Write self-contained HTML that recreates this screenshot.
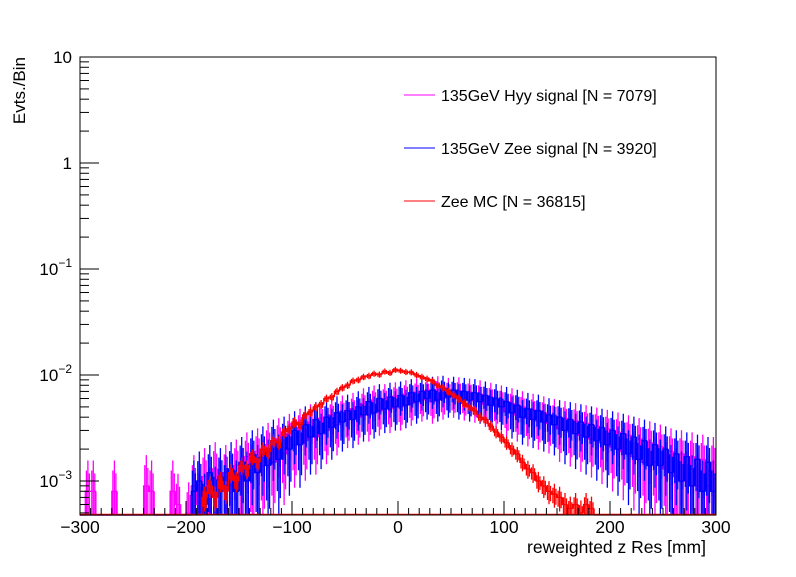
<!DOCTYPE html>
<html><head><meta charset="utf-8">
<style>
body{margin:0;background:#fff;}
svg text{font-family:"Liberation Sans",sans-serif;}
</style></head>
<body>
<svg id="chart" width="796" height="572" viewBox="0 0 796 572" xmlns="http://www.w3.org/2000/svg">
<rect width="796" height="572" fill="#fff"/>
<g id="plot"></g>
<g id="axes"></g>
<text transform="translate(25,57) rotate(-90)" text-anchor="end" font-size="17">Evts./Bin</text>
<text x="706" y="553" text-anchor="end" font-size="17.5">reweighted z Res [mm]</text>
<g>
<line x1="404" y1="95" x2="435" y2="95" stroke="#f0f" stroke-width="1"/>
<text x="441" y="101" font-size="16">135GeV Hyy signal [N = 7079]</text>
<line x1="404" y1="148" x2="435" y2="148" stroke="#00f" stroke-width="1"/>
<text x="441" y="154" font-size="16">135GeV Zee signal [N = 3920]</text>
<line x1="404" y1="201" x2="435" y2="201" stroke="#f00" stroke-width="1"/>
<text x="441" y="207" font-size="16">Zee MC [N = 36815]</text>
</g>
</svg>
<script>
// bins: 5 mm wide, starting at -300; values in units of 1e-3
const binEdgeStart = -300;
const binWidth = 5;
const redValues = [0,0,0,0,0,0,0,0,0,0,0,0,0,0,0,0,0,0,0,0,
 0,0,0,0.7,0.9,0.7,1.0,0.8,1.2,1.0,
 1.4,1.3,1.7,1.5,2.0,1.9,2.4,2.3,2.9,3.1,
 3.6,3.4,4.2,4.5,5.0,5.3,6.0,6.2,7.0,7.6,
 8.0,8.8,9.0,9.6,9.8,10.3,10.1,10.8,10.5,11.2,
 11.0,10.7,10.6,10.0,9.6,9.2,8.8,8.0,7.6,7.0,
 6.5,6.0,5.4,5.0,4.6,4.0,3.8,3.3,2.9,2.6,
 2.3,2.0,1.8,1.5,1.3,1.2,1.0,0.9,0.8,0.75,
 0.7,0.6,0.55,0.6,0.5,0.6,0.55,0,0,0,
 0,0,0,0,0,0,0,0,0,0,0,0,0,0,0,0,0,0,0,0];
const blueValues = [0,0,0,0,0,0,0,0,0,0,0,0,0,0,0,0,0,0,0,0,
 0,0.8,1.0,0.6,1.2,0.7,1.1,0.9,1.3,0.8,
 1.5,1.0,1.8,1.2,2.0,1.4,2.4,1.6,2.6,2.0,
 3.0,2.2,3.4,2.6,3.8,2.8,4.0,3.2,4.4,3.6,
 4.6,3.8,5.0,4.2,5.6,4.4,6.0,4.8,6.2,5.0,
 6.4,5.2,6.8,5.6,7.0,6.0,7.2,5.8,7.4,6.2,
 7.2,6.0,7.0,5.8,6.8,5.6,6.4,5.2,6.0,5.0,
 5.6,4.4,5.2,4.0,4.8,3.8,4.6,3.6,4.2,3.4,
 4.0,3.0,3.8,2.8,3.6,2.6,3.4,2.4,3.2,2.2,
 3.0,2.0,2.8,1.8,2.6,1.6,2.4,1.4,2.2,1.4,
 2.0,1.2,1.8,1.0,1.7,0.9,1.6,0.8,1.5,0.8];
const magentaValues = [0,0.8,0.8,0,0,0,0.8,0,0,0,0,0,0.9,0.8,0,0,0,0.8,0.6,0,
 0.5,0.9,0.6,1.1,0.7,1.3,0.8,1.2,0.9,1.4,
 1.1,1.7,1.2,1.9,1.4,2.2,1.5,2.5,1.8,2.8,
 2.2,3.2,2.4,3.6,2.6,3.9,3.0,4.2,3.4,4.5,
 3.8,4.8,4.0,5.4,4.2,5.8,4.6,6.0,4.8,6.3,
 5.0,6.6,5.4,6.9,5.8,7.1,5.6,7.3,6.0,7.0,
 6.2,7.1,5.9,6.9,5.7,6.6,5.3,6.2,5.1,5.8,
 4.5,5.4,4.2,5.0,3.9,4.7,3.7,4.4,3.5,4.1,
 3.1,3.9,2.9,3.7,2.7,3.5,2.5,3.3,2.3,3.1,
 2.1,2.9,1.9,2.7,1.7,2.5,1.5,2.3,1.5,2.1,
 1.3,1.9,1.1,1.8,1.0,1.7,0.9,1.6,0.9,1.5];
const xTickValues = [-300,-200,-100,0,100,200,300];
const xTickLabels = ["\u2212300","\u2212200","\u2212100","0","100","200","300"];
const yDecades = [-3,-2,-1,0,1];
const yTickLabels = ["10<tspan dy='-8' font-size='12'>\u22123</tspan>","10<tspan dy='-8' font-size='12'>\u22122</tspan>","10<tspan dy='-8' font-size='12'>\u22121</tspan>","1","10"];

const X0=80, X1=716, Y0=57, Y1=515;
const LOGMAX=1, DEC=106;
function xs(v){return X0+(v+300)/600*(X1-X0);}
function ys(v){ if(v<=0) return Y1; const y=Y0+(LOGMAX-Math.log10(v))*DEC; return Math.min(Y1,Math.max(Y0,y)); }
const NS="http://www.w3.org/2000/svg";
const plot=document.getElementById('plot'), axes=document.getElementById('axes');
function mk(tag,attrs,parent){const e=document.createElementNS(NS,tag);for(const k in attrs)e.setAttribute(k,attrs[k]);parent.appendChild(e);return e;}

function hist(vals,color,name,relErrScale){
  const g=mk('g',{},plot);
  
  
  let d="";
  let prevY=Y1;
  vals.forEach((v,i)=>{
    const xa=xs(binEdgeStart+i*binWidth), xb=xs(binEdgeStart+(i+1)*binWidth), y=ys(v*1e-3);
    d+=" M"+xa.toFixed(1)+","+prevY.toFixed(1)+" L"+xa.toFixed(1)+","+y.toFixed(1)+" L"+xb.toFixed(1)+","+y.toFixed(1);
    prevY=y;
    if(v>0){
      const e=Math.min(0.95,relErrScale/Math.sqrt(v));
      const xc=(xa+xb)/2;
      d+=" M"+xc.toFixed(1)+","+ys(v*1e-3*(1+e)).toFixed(1)+" L"+xc.toFixed(1)+","+ys(v*1e-3*(1-e)).toFixed(1);
      d+=" M"+(xc-1.5).toFixed(1)+","+ys(v*1e-3*(1+e*0.6)).toFixed(1)+" L"+(xc-1.5).toFixed(1)+","+ys(v*1e-3*(1-e*0.7)).toFixed(1);
      d+=" M"+(xc+1.5).toFixed(1)+","+ys(v*1e-3*(1+e*0.5)).toFixed(1)+" L"+(xc+1.5).toFixed(1)+","+ys(v*1e-3*(1-e*0.8)).toFixed(1);
    }
  });
  mk('path',{d:d,fill:'none',stroke:color,'stroke-width':1.3},g);
}
hist(magentaValues,'#f0f','hyy-histogram',0.9);
hist(blueValues,'#00f','zee-signal-histogram',0.9);
hist(redValues,'#f00','zee-mc-histogram',0.22);
const floor=mk('line',{x1:X0,x2:X1,y1:Y1-0.5,y2:Y1-0.5,stroke:'#f00','stroke-width':1.5},plot);



const fr=mk('rect',{x:X0,y:Y0,width:X1-X0,height:Y1-Y0,fill:'none',stroke:'#000','stroke-width':1},axes);


for(let v=-300;v<=300;v+=10){
  const major=(v%100===0), x=xs(v);
  mk('line',{x1:x,x2:x,y1:Y1,y2:Y1-(major?14:7),stroke:'#000','stroke-width':1},axes);
}
xTickValues.forEach((v,i)=>{
  const t=mk('text',{x:xs(v),y:533,'text-anchor':'middle','font-size':17.5},axes);
  t.textContent=xTickLabels[i];
  
  
});
yDecades.forEach((d,i)=>{
  const y=ys(Math.pow(10,d));
  mk('line',{x1:X0,x2:X0+19,y1:y,y2:y,stroke:'#000','stroke-width':1},axes);
  for(let m=2;m<=9;m++){
    const yy=Y0+(LOGMAX-Math.log10(m*Math.pow(10,d)))*DEC;
    if(yy>=Y0 && yy<=Y1) mk('line',{x1:X0,x2:X0+9,y1:yy,y2:yy,stroke:'#000','stroke-width':1},axes);
  }
  const t=mk('text',{x:72,y:y+6,'text-anchor':'end','font-size':17},axes);
  t.innerHTML=yTickLabels[i];
  
  
});
for(let m=5;m<=9;m++){const yy=Y0+(LOGMAX-Math.log10(m*1e-4))*DEC; if(yy<=Y1) mk('line',{x1:X0,x2:X0+9,y1:yy,y2:yy,stroke:'#000','stroke-width':1},axes);}
</script>
</body></html>
